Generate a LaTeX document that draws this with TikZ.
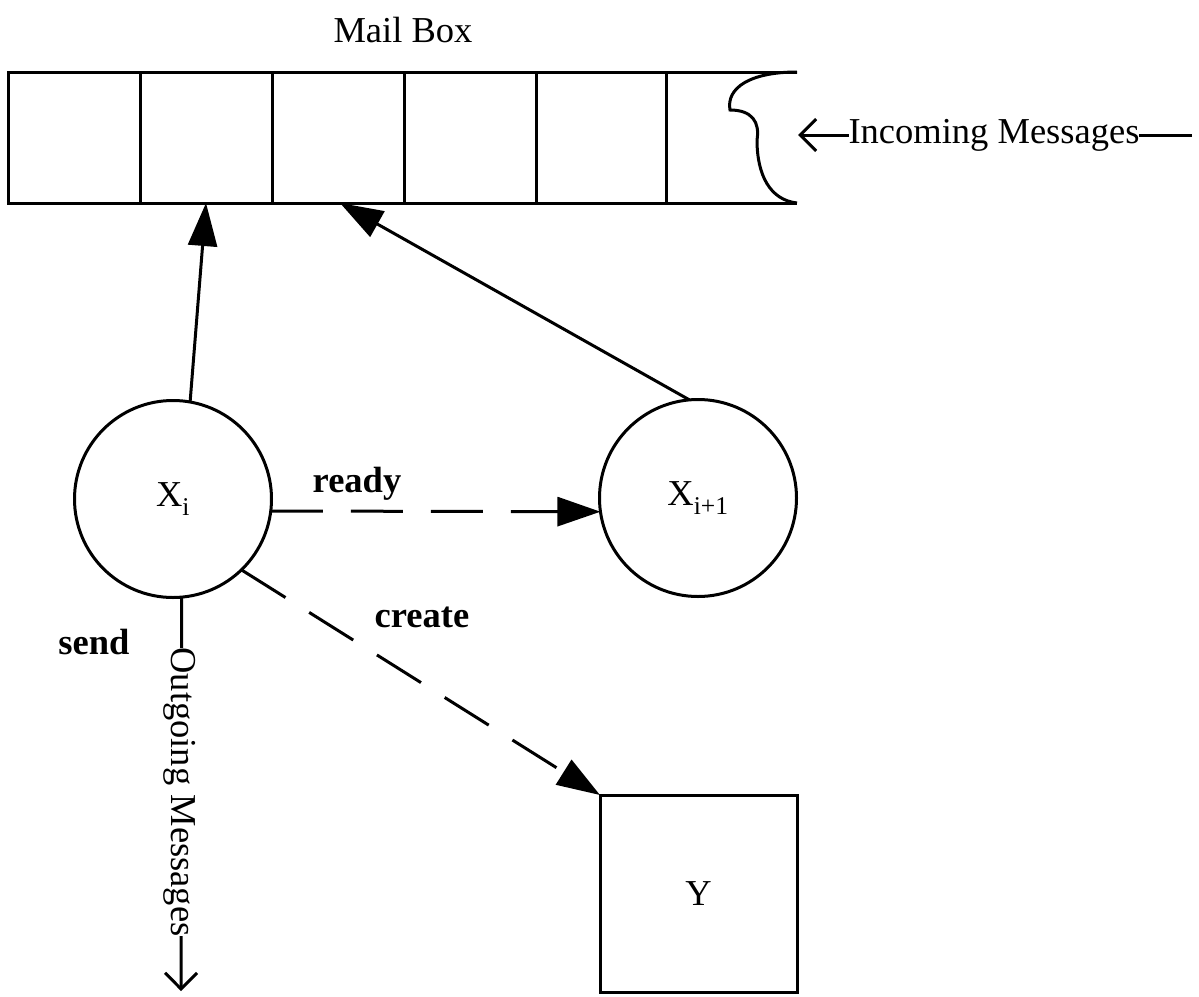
\documentclass[tikz,border=0pt]{standalone}
\usepackage{fontspec}
\setmainfont{Liberation Serif}
\usetikzlibrary{arrows.meta}
\begin{document}
\begin{tikzpicture}[x=1pt,y=-1pt,
  every node/.style={font=\fontsize{36.5}{44}\selectfont},
  ln/.style={line width=3pt},
  proc/.style={circle,draw,line width=3pt,minimum size=197pt,inner sep=0pt,outer sep=0pt},
  objbox/.style={rectangle,draw,line width=3pt,minimum size=197pt,inner sep=0pt,outer sep=0pt},
  solidtip/.style={-{Triangle[length=43pt,width=29pt]}},
  opentip/.style={-{Straight Barb[length=16pt,width=32pt,line width=3pt]}},
  dsh/.style={dash pattern=on 52pt off 28pt},
  lbl/.style={font=\fontsize{36.5}{44}\selectfont\bfseries},
  onl/.style={fill=white,inner xsep=0pt,inner ysep=2pt}]
\useasboundingbox (0,0) rectangle (1199,996);
% mailbox
\draw[ln] (797,72) -- (8,72) -- (8,203) -- (797,203);
\foreach \xx in {140,272,404,536,666} \draw[ln] (\xx,72) -- (\xx,203);
\draw[ln] (797,72) .. controls (750,72) and (726,88) .. (730,110)
  .. controls (752,110) and (760,122) .. (757,140)
  .. controls (757,175) and (770,200) .. (797,203);
\node (mbtitle) at (403,30) {Mail Box};
\coordinate (mbA) at (206,203);
\coordinate (mbB) at (340,203);
\coordinate (intip) at (798,135);
\coordinate (inend) at (1192,135);
% nodes
\node[proc] (xi) at (173,499) {X\textsubscript{i}};
\node[proc] (xip) at (698,498) {X\textsubscript{i+1}};
\node[objbox] (y) at (698.5,893.5) {Y};
\coordinate (outtip) at (181,991);
% connectors
\draw[ln,solidtip] (xi.80) -- (mbA);
\draw[ln,solidtip] (xip.95) -- (mbB);
\draw[ln,dsh,solidtip] (xi.-7.7) -- (xip.188);
\draw[ln,dsh,solidtip] (xi.-46) -- (y.north west);
\draw[ln,opentip] (xi.-85) -- (outtip);
\draw[ln,opentip] (inend) -- (intip);
% labels
\node[onl] (intext) at (994,135) {Incoming Messages};
\node[onl,rotate=-90] (outtext) at (180,792) {Outgoing Messages};
\node[lbl] (ready) at (357,484) {ready};
\node[lbl] (create) at (422,617) {create};
\node[lbl] (send) at (94,642) {send};
\end{tikzpicture}
\end{document}
